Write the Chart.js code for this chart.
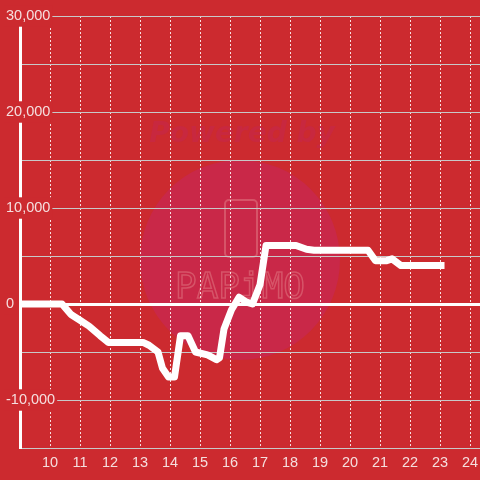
<!DOCTYPE html>
<html>
<head>
<meta charset="utf-8">
<script src="https://cdn.jsdelivr.net/npm/chart.js@4"></script>
<style>
    html, body { margin: 0; padding: 0; background: #cc2a2f; }
    #chart { display: block; }
</style>
</head>
<body>
<canvas id="chart" width="480" height="480"></canvas>
<script>
// Hora del día (eje X) y saldo acumulado (eje Y)
const HOURS = [
    9.0, 10.4, 10.7, 11.0, 11.3, 11.67, 11.95, 13.1, 13.3, 13.6,
    13.75, 13.95, 14.15, 14.35, 14.6, 14.85, 15.25, 15.55, 15.65, 15.8,
    16.05, 16.3, 16.55, 16.75, 17.0, 17.2, 18.2, 18.55, 18.8, 20.6,
    20.85, 21.2, 21.4, 21.7, 23.15,
];
const VALUES = [
    0, 0, -1100, -1700, -2300, -3300, -4000, -4000, -4300, -5000,
    -6700, -7600, -7600, -3300, -3300, -5000, -5300, -5800, -5600, -2600,
    -600, 700, 200, 0, 2000, 6100, 6100, 5700, 5600, 5600,
    4500, 4500, 4700, 4000, 4000,
];
const X_TICKS = [10, 11, 12, 13, 14, 15, 16, 17, 18, 19, 20, 21, 22, 23, 24];
const Y_LABELS = [-10000, 0, 10000, 20000, 30000];

const BG = "#cc2a2f";
const TEXT = "#f5dede";

const watermark = {
    id: "watermark",
    beforeDraw(chart) {
        const ctx = chart.ctx;
        ctx.save();
        ctx.fillStyle = BG;
        ctx.fillRect(0, 0, chart.width, chart.height);

        ctx.fillStyle = "#c92848";
        ctx.beginPath();
        ctx.arc(240, 260, 100, 0, Math.PI * 2);
        ctx.fill();

        ctx.fillStyle = "#c8283f";
        ctx.font = "italic bold 28px 'DejaVu Sans'";
        ctx.textAlign = "center";
        ctx.textBaseline = "alphabetic";
        ctx.fillText("Powered by", 242, 142);

        ctx.strokeStyle = "#d65468";
        ctx.lineWidth = 2;
        ctx.beginPath();
        ctx.roundRect(225, 200, 32, 57, 4);
        ctx.stroke();

        ctx.font = "36px 'DejaVu Sans Mono'";
        ctx.lineWidth = 1.5;
        ctx.strokeText("PAPiMO", 240, 298);
        ctx.restore();
    },
};

new Chart(document.getElementById("chart").getContext("2d"), {
    type: "line",
    data: {
        datasets: [{
            data: HOURS.map((h, i) => ({ x: h, y: VALUES[i] })),
            borderColor: "#ffffff",
            borderWidth: 7,
            pointRadius: 0,
            tension: 0,
            borderJoinStyle: "round",
        }],
    },
    options: {
        responsive: false,
        animation: false,
        layout: { padding: { top: 16, left: 0, right: 0, bottom: 0 } },
        plugins: {
            legend: { display: false },
            tooltip: { enabled: false },
        },
        scales: {
            x: {
                type: "linear",
                min: 9,
                max: 24.333,
                afterBuildTicks: (s) => {
                    s.ticks = X_TICKS.map((v) => ({ value: v }));
                },
                afterFit: (s) => {
                    s.height = 32;
                    s.paddingLeft = 0;
                    s.paddingRight = 0;
                },
                ticks: {
                    color: TEXT,
                    font: { family: "'Liberation Sans'", size: 14.5 },
                    padding: 6,
                    maxRotation: 0,
                    autoSkip: false,
                },
                grid: {
                    color: "rgba(255,255,255,0.85)",
                    lineWidth: 1,
                    drawTicks: false,
                },
                border: { color: "#c8c8c8", width: 1, dash: [2, 2] },
            },
            y: {
                min: -15000,
                max: 30000,
                afterFit: (s) => { s.width = 20; },
                ticks: {
                    stepSize: 5000,
                    color: TEXT,
                    font: { family: "'Liberation Sans'", size: 14.5 },
                    mirror: true,
                    padding: -14,
                    callback: (v) => Y_LABELS.includes(v) ? v.toLocaleString("en-US") : "",
                    showLabelBackdrop: (c) => Y_LABELS.includes(c.tick.value),
                    backdropColor: BG,
                    backdropPadding: 2,
                },
                grid: {
                    color: (c) => c.tick && c.tick.value === 0 ? "#ffffff" : "#c8c8c8",
                    lineWidth: (c) => c.tick && c.tick.value === 0 ? 3 : 1,
                    drawTicks: false,
                },
                border: { color: "#ffffff", width: 3 },
            },
        },
    },
    plugins: [watermark],
});
</script>
</body>
</html>
